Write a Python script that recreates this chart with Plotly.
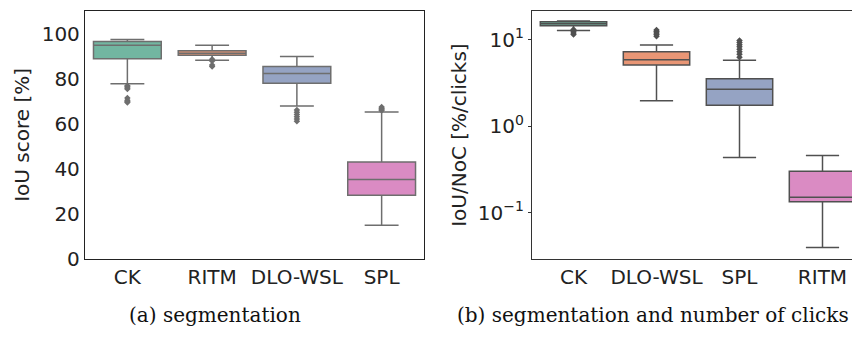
import plotly.graph_objects as go

# ---------------- data ----------------
# (a) segmentation: IoU score [%]
seg_categories = ["CK", "RITM", "DLO-WSL", "SPL"]
seg_lowerfence = [77.9, 88.3, 68.0, 14.9]
seg_q1 = [89.0, 90.6, 78.1, 28.3]
seg_median = [95.0, 91.4, 82.4, 35.3]
seg_q3 = [96.7, 92.6, 85.6, 43.1]
seg_upperfence = [97.6, 95.0, 90.0, 65.3]
seg_outliers = {
    "CK": [77.0, 76.5, 76.0, 75.5, 71.5, 70.5, 70.0, 69.5],
    "RITM": [88.8, 88.0, 86.2, 85.5],
    "DLO-WSL": [66.2, 65.2, 64.2, 63.2, 62.2, 61.2],
    "SPL": [67.5, 67.0, 66.5, 66.0],
}

# (b) segmentation and number of clicks: IoU/NoC [%/clicks]
noc_categories = ["CK", "DLO-WSL", "SPL", "RITM"]
noc_lowerfence = [12.8, 1.98, 0.434, 0.0396]
noc_q1 = [14.6, 5.12, 1.75, 0.134]
noc_median = [15.4, 5.88, 2.69, 0.151]
noc_q3 = [16.2, 7.28, 3.54, 0.302]
noc_upperfence = [16.5, 8.7, 5.82, 0.46]
noc_outliers = {
    "CK": [13.2, 12.6, 12.0, 11.5],
    "DLO-WSL": [13.0, 12.5, 12.0, 11.5, 11.0],
    "SPL": [6.3, 6.8, 7.3, 7.8, 8.3, 8.8, 9.3, 9.8],
    "RITM": [],
}

palette = ["#72b6a1", "#e99675", "#95a3c3", "#da8bc3"]

# ---------------- figure ----------------
fig = go.Figure()

left_line = "#6e6e6e"
right_line = "#505050"


def add_panel(cats, q1, med, q3, lo, hi, outliers, line_color, xa, ya):
    for i, c in enumerate(cats):
        fig.add_trace(go.Box(
            x=[c], q1=[q1[i]], median=[med[i]], q3=[q3[i]],
            lowerfence=[lo[i]], upperfence=[hi[i]],
            fillcolor=palette[i], line=dict(color=line_color, width=1.5),
            width=0.8, whiskerwidth=0.5, boxpoints=False,
            xaxis=xa, yaxis=ya, showlegend=False, hoverinfo="skip"))
        ys = outliers[c]
        if ys:
            fig.add_trace(go.Scatter(
                x=[c] * len(ys), y=ys, mode="markers",
                marker=dict(symbol="diamond", size=5, color=line_color),
                xaxis=xa, yaxis=ya, showlegend=False, hoverinfo="skip"))


add_panel(seg_categories, seg_q1, seg_median, seg_q3, seg_lowerfence,
          seg_upperfence, seg_outliers, left_line, "x", "y")
add_panel(noc_categories, noc_q1, noc_median, noc_q3, noc_lowerfence,
          noc_upperfence, noc_outliers, right_line, "x2", "y2")

W, H = 860, 338
ydom = [1 - 260 / H, 1 - 3 / H]
tickfont = dict(family="DejaVu Sans", size=20, color="#222222")
titlefont = dict(family="DejaVu Sans", size=20, color="#222222")
capfont = dict(family="DejaVu Serif", size=20, color="#111111")

fig.update_layout(
    width=W, height=H,
    margin=dict(l=0, r=0, t=0, b=0),
    paper_bgcolor="white", plot_bgcolor="white",
    boxmode="overlay",
    font=dict(family="DejaVu Sans", size=20, color="#222222"),
    xaxis=dict(
        domain=[77 / W, 416 / W], anchor="y",
        type="category", categoryorder="array", categoryarray=seg_categories,
        range=[-0.5, 3.5], showline=True, mirror=True, linecolor="#222222",
        linewidth=1.3, showgrid=False, zeroline=False, ticks="", tickfont=tickfont,
    ),
    yaxis=dict(
        domain=ydom, anchor="x", range=[0, 110.3],
        tickvals=[0, 20, 40, 60, 80, 100],
        showline=True, mirror=True, linecolor="#222222", linewidth=1.3,
        showgrid=False, zeroline=False, ticks="", tickfont=tickfont,
    ),
    xaxis2=dict(
        domain=[524 / W, 856 / W], anchor="y2",
        type="category", categoryorder="array", categoryarray=noc_categories,
        range=[-0.5, 3.5], showline=True, mirror=True, linecolor="#333333",
        linewidth=1.3, showgrid=False, zeroline=False, ticks="", tickfont=tickfont,
    ),
    yaxis2=dict(
        domain=ydom, anchor="x2", type="log", range=[-1.533, 1.335],
        tickvals=[0.1, 1, 10],
        ticktext=["10<sup>\u22121</sup>", "10<sup>0</sup>", "10<sup>1</sup>"],
        showline=True, mirror=True, linecolor="#333333", linewidth=1.3,
        showgrid=False, zeroline=False, ticks="outside", ticklen=3,
        tickcolor="#333333", tickfont=tickfont,
    ),
    annotations=[
        dict(text="IoU score [%]", x=14 / W, y=(ydom[0] + ydom[1]) / 2,
             xref="paper", yref="paper", textangle=-90, showarrow=False,
             xanchor="center", yanchor="middle", font=titlefont),
        dict(text="IoU/NoC [%/clicks]", x=451 / W, y=(ydom[0] + ydom[1]) / 2,
             xref="paper", yref="paper", textangle=-90, showarrow=False,
             xanchor="center", yanchor="middle", font=titlefont),
        dict(text="(a) segmentation", x=207 / W, y=1 - 318 / H,
             xref="paper", yref="paper", showarrow=False,
             xanchor="center", yanchor="middle", font=capfont),
        dict(text="(b) segmentation and number of clicks", x=645 / W, y=1 - 318 / H,
             xref="paper", yref="paper", showarrow=False,
             xanchor="center", yanchor="middle", font=capfont),
    ],
)

fig.write_html("out.html")
